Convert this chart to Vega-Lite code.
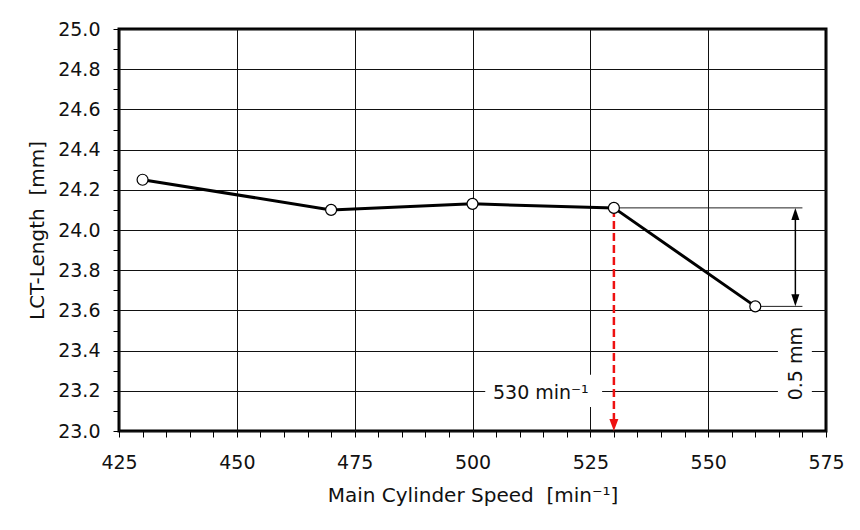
{
  "$schema": "https://vega.github.io/schema/vega-lite/v6.json",
  "autosize": {"type": "none"},
  "width": 707,
  "height": 402,
  "padding": {"left": 119, "top": 29, "right": 34, "bottom": 99},
  "background": "white",
  "config": {
    "view": {"stroke": "black", "strokeWidth": 3},
    "font": "DejaVu Sans",
    "axis": {
      "domain": false,
      "labelFont": "DejaVu Sans",
      "labelFontSize": 19,
      "labelColor": "#111",
      "labelOverlap": false,
      "labelBound": false,
      "labelFlush": false,
      "titleFont": "DejaVu Sans",
      "titleFontSize": 20,
      "titleFontWeight": "normal",
      "titleColor": "#111",
      "tickColor": "black",
      "tickWidth": 1,
      "tickSize": 6,
      "gridColor": "#111",
      "gridWidth": 1
    }
  },
  "datasets": {
    "points": [
      {"x": 430, "y": 24.25},
      {"x": 470, "y": 24.10},
      {"x": 500, "y": 24.13},
      {"x": 530, "y": 24.11},
      {"x": 560, "y": 23.62}
    ]
  },
  "layer": [
    {
      "data": {"name": "points"},
      "mark": {"type": "line", "color": "black", "strokeWidth": 3},
      "encoding": {
        "x": {
          "field": "x", "type": "quantitative",
          "scale": {"domain": [425, 575], "nice": false, "zero": false},
          "axis": {
            "title": "Main Cylinder Speed\u00a0\u00a0[min⁻¹]",
            "tickCount": 31,
            "values": [425,430,435,440,445,450,455,460,465,470,475,480,485,490,495,500,505,510,515,520,525,530,535,540,545,550,555,560,565,570,575],
            "labelExpr": "datum.value % 25 === 0 ? datum.label : ''",
            "gridOpacity": {"condition": {"test": "datum.value % 25 === 0", "value": 1}, "value": 0},
            "labelPadding": 16,
            "titlePadding": 13
          }
        },
        "y": {
          "field": "y", "type": "quantitative",
          "scale": {"domain": [23, 25], "nice": false, "zero": false},
          "axis": {
            "title": "LCT-Length\u00a0\u00a0[mm]",
            "tickCount": 21,
            "values": [23.0,23.1,23.2,23.3,23.4,23.5,23.6,23.7,23.8,23.9,24.0,24.1,24.2,24.3,24.4,24.5,24.6,24.7,24.8,24.9,25.0],
            "labelExpr": "round(datum.value*10) % 2 === 0 ? format(datum.value, '.1f') : ''",
            "gridOpacity": {"condition": {"test": "round(datum.value*10) % 2 === 0", "value": 1}, "value": 0},
            "labelPadding": 13,
            "titlePadding": 10
          }
        }
      }
    },
    {
      "data": {"values": [
        {"x": 564.8, "x2": 572.0, "y": 23.12, "y2": 23.55},
        {"x": 502.7, "x2": 527.5, "y": 23.12, "y2": 23.28}
      ]},
      "mark": {"type": "rect", "fill": "white", "stroke": null},
      "encoding": {
        "x": {"field": "x", "type": "quantitative"},
        "x2": {"field": "x2"},
        "y": {"field": "y", "type": "quantitative"},
        "y2": {"field": "y2"}
      }
    },
    {
      "data": {"values": [
        {"x": 530, "x2": 570, "y": 24.11},
        {"x": 560, "x2": 570, "y": 23.62}
      ]},
      "mark": {"type": "rule", "color": "#222", "strokeWidth": 1},
      "encoding": {
        "x": {"field": "x", "type": "quantitative"},
        "x2": {"field": "x2"},
        "y": {"field": "y", "type": "quantitative"}
      }
    },
    {
      "data": {"values": [{"x": 568.5, "y": 23.64, "y2": 24.09}]},
      "mark": {"type": "rule", "color": "black", "strokeWidth": 1.5},
      "encoding": {
        "x": {"field": "x", "type": "quantitative"},
        "y": {"field": "y", "type": "quantitative"},
        "y2": {"field": "y2"}
      }
    },
    {
      "data": {"values": [{"x": 568.5, "y": 23.65}]},
      "mark": {"type": "point", "shape": "M0,1 L-0.67,-1 L0.67,-1 Z", "size": 144, "filled": true, "color": "black", "opacity": 1},
      "encoding": {
        "x": {"field": "x", "type": "quantitative"},
        "y": {"field": "y", "type": "quantitative"}
      }
    },
    {
      "data": {"values": [{"x": 568.5, "y": 24.08}]},
      "mark": {"type": "point", "shape": "M0,-1 L-0.67,1 L0.67,1 Z", "size": 144, "filled": true, "color": "black", "opacity": 1},
      "encoding": {
        "x": {"field": "x", "type": "quantitative"},
        "y": {"field": "y", "type": "quantitative"}
      }
    },
    {
      "data": {"values": [{"x": 530, "y": 23.05, "y2": 24.11}]},
      "mark": {"type": "rule", "color": "#ee1111", "strokeWidth": 2.5, "strokeDash": [8, 4]},
      "encoding": {
        "x": {"field": "x", "type": "quantitative"},
        "y": {"field": "y", "type": "quantitative"},
        "y2": {"field": "y2"}
      }
    },
    {
      "data": {"values": [{"x": 530, "y": 23.03}]},
      "mark": {"type": "point", "shape": "M0,1 L-0.75,-1 L0.75,-1 Z", "size": 144, "filled": true, "color": "#ee1111", "opacity": 1},
      "encoding": {
        "x": {"field": "x", "type": "quantitative"},
        "y": {"field": "y", "type": "quantitative"}
      }
    },
    {
      "data": {"values": [{"x": 514.5, "y": 23.19, "label": "530 min⁻¹"}]},
      "mark": {"type": "text", "font": "DejaVu Sans", "fontSize": 19, "color": "#111", "align": "center", "baseline": "middle"},
      "encoding": {
        "x": {"field": "x", "type": "quantitative"},
        "y": {"field": "y", "type": "quantitative"},
        "text": {"field": "label"}
      }
    },
    {
      "data": {"values": [{"x": 568.6, "y": 23.335, "label": "0.5 mm"}]},
      "mark": {"type": "text", "font": "DejaVu Sans", "fontSize": 19, "color": "#111", "align": "center", "baseline": "middle", "angle": 270},
      "encoding": {
        "x": {"field": "x", "type": "quantitative"},
        "y": {"field": "y", "type": "quantitative"},
        "text": {"field": "label"}
      }
    },
    {
      "data": {"name": "points"},
      "mark": {"type": "point", "shape": "circle", "size": 120, "filled": true, "fill": "white", "stroke": "black", "strokeWidth": 1.2, "opacity": 1},
      "encoding": {
        "x": {"field": "x", "type": "quantitative"},
        "y": {"field": "y", "type": "quantitative"}
      }
    }
  ]
}
